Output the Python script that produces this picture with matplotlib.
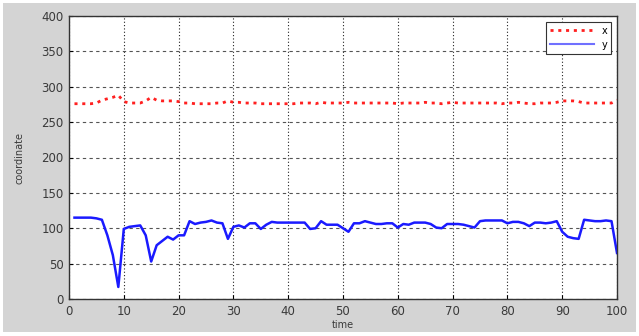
import matplotlib
matplotlib.use("Agg")
import matplotlib.pyplot as plt
from matplotlib.patches import Rectangle

time = list(range(1, 101))
x_coord = [276, 276, 276, 276, 277, 281, 283, 285, 288, 279,
           277, 277, 277, 280, 285, 281, 280, 280, 280, 279,
           277, 277, 276, 276, 276, 276, 277, 277, 280, 278,
           278, 277, 277, 277, 276, 276, 276, 276, 276, 276,
           276, 277, 277, 277, 276, 278, 277, 277, 277, 277,
           278, 277, 277, 277, 277, 277, 277, 277, 277, 276,
           277, 277, 277, 277, 278, 277, 277, 276, 277, 278,
           277, 277, 277, 277, 277, 277, 277, 277, 276, 277,
           277, 278, 277, 276, 276, 277, 277, 277, 278, 280,
           280, 280, 279, 277, 277, 277, 277, 277, 277, 281]
y_coord = [115, 115, 115, 115, 114, 112, 90, 62, 17, 99,
           102, 103, 104, 90, 53, 76, 82, 88, 84, 90,
           90, 110, 106, 108, 109, 111, 108, 107, 85, 102,
           104, 101, 107, 107, 99, 105, 109, 108, 108, 108,
           108, 108, 108, 99, 100, 110, 105, 105, 105, 100,
           95, 107, 107, 110, 108, 106, 106, 107, 107, 101,
           106, 105, 108, 108, 108, 106, 101, 100, 106, 106,
           106, 105, 103, 101, 110, 111, 111, 111, 111, 107,
           109, 109, 107, 103, 108, 108, 107, 108, 110, 95,
           88, 86, 85, 112, 111, 110, 110, 111, 110, 65]

plt.rcParams['font.family'] = ['DejaVu Sans']

fig = plt.figure(figsize=(6.39, 3.36), dpi=100, facecolor='white')
fig.patches.append(Rectangle((3/639, 4/336), 633/639, 329/336, transform=fig.transFigure,
                             facecolor='#d4d4d4', edgecolor='none', zorder=-10))
ax = fig.add_axes([69/639, 1 - 299/336, 548/639, 283/336])
ax.set_facecolor('white')

ax.plot(time, x_coord, color='#ff2020', linestyle=(0, (1.1, 1.7)), linewidth=2.0, label='x')
ax.plot(time, y_coord, color='#1a1aff', linestyle='-', linewidth=1.8, label='y')

ax.set_xlim(0, 100)
ax.set_ylim(0, 400)
ax.set_xticks(range(0, 101, 10))
ax.set_yticks(range(0, 401, 50))
ax.tick_params(direction='in', labelsize=8.5, colors='black', length=3, pad=4)
for lab in ax.get_xticklabels() + ax.get_yticklabels():
    lab.set_color('#3a3a3a')
ax.xaxis.grid(True, color='#222222', linestyle=(0, (1, 2)), linewidth=0.8)
ax.yaxis.grid(True, color='#555555', linestyle=(0, (3, 3)), linewidth=0.8)
for s in ax.spines.values():
    s.set_color('#333333')
    s.set_linewidth(1.0)

ax.set_xlabel('time', fontsize=7, labelpad=2, color='#3a3a3a')
ax.set_ylabel('coordinate', fontsize=7, labelpad=12, color='#3a3a3a')

leg = ax.legend(loc='upper right', fontsize=7, frameon=True, fancybox=False,
                edgecolor='#333333', framealpha=1, handlelength=4.5,
                borderaxespad=0.6, labelspacing=0.4)
leg.get_frame().set_linewidth(0.8)
leg.get_lines()[1].set_color('#7070ff')
leg.get_lines()[1].set_linewidth(1.5)

fig.savefig('out.png', dpi=100, facecolor=fig.get_facecolor())
